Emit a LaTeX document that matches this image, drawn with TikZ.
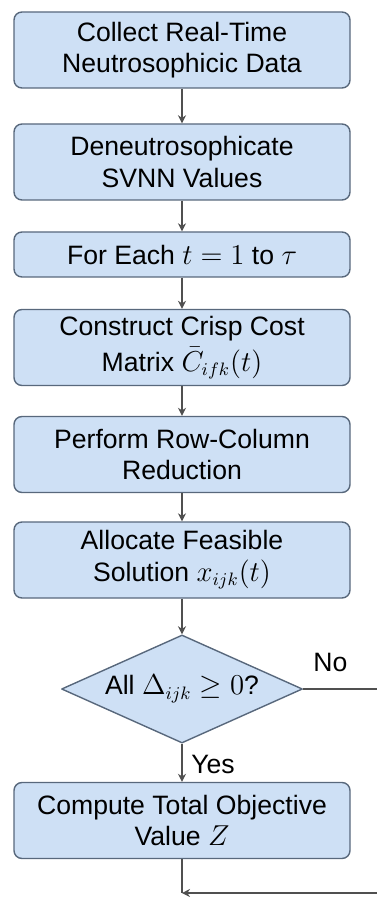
\documentclass[tikz,border=0pt]{standalone}
\usepackage{fontspec}
\setmainfont{Liberation Sans}
\usetikzlibrary{shapes.geometric,arrows.meta}
\definecolor{boxfill}{RGB}{206,224,245}
\definecolor{boxline}{RGB}{88,104,124}
\definecolor{linkgray}{RGB}{80,80,80}
\tikzset{
  procbox/.style={draw=boxline, fill=boxfill, line width=0.7pt, rounded corners=4pt,
    minimum width=168pt, minimum height=38pt, align=center, inner sep=2pt},
  decbox/.style={draw=boxline, fill=boxfill, line width=0.7pt, diamond, aspect=2.23,
    inner sep=2pt, align=center},
  link/.style={draw=linkgray, line width=0.6pt, -{Stealth[length=4pt,width=4pt]}},
}
\begin{document}
\begin{tikzpicture}[x=0.5pt, y=0.5pt, font=\fontsize{13.3}{15.8}\selectfont, line join=round]
  \useasboundingbox (0,0) rectangle (376,-897);
  \node[procbox] (collect) at (182,-50) {Collect Real-Time\\Neutrosophicic Data};
  \node[procbox] (deneut) at (182,-162) {Deneutrosophicate\\SVNN Values};
  \node[procbox, minimum height=22.5pt] (loop) at (182,-254.5) {For Each $t = 1$ to $\tau$};
  \node[procbox] (matrix) at (182,-347.5) {Construct Crisp Cost\\[2pt]Matrix $\bar{C}_{ifk}(t)$};
  \node[procbox] (reduce) at (182,-454.5) {Perform Row-Column\\Reduction};
  \node[procbox] (alloc) at (182,-560) {Allocate Feasible\\Solution $x_{ijk}(t)$};
  \node[decbox] (check) at (182,-689) {All $\Delta_{ijk}\geq 0$?};
  \node[procbox] (total) at (182,-820.5) {Compute Total Objective\\Value $Z$};
  \coordinate (merge) at (182,-893);
  \coordinate (far) at (400,-689);

  \draw[link] (collect) -- (deneut);
  \draw[link] (deneut) -- (loop);
  \draw[link] (loop) -- (matrix);
  \draw[link] (matrix) -- (reduce);
  \draw[link] (reduce) -- (alloc);
  \draw[link] (alloc) -- (check);
  \draw[link] (check) -- node[right, xshift=1pt, yshift=-1pt]{Yes} (total);
  \draw[linkgray, line width=0.6pt] (total) -- (merge);
  % the No branch runs out past the right edge and comes back in at the bottom
  \draw[link] (check.east) -- node[above, pos=0.28, yshift=5pt]{No} (far) |- (merge);
\end{tikzpicture}
\end{document}
